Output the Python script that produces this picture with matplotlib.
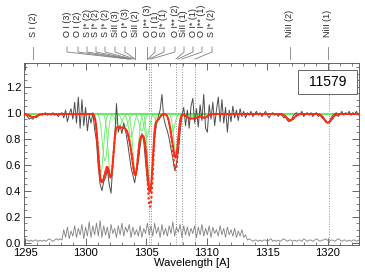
import numpy as np
import matplotlib
matplotlib.use('Agg')
import matplotlib.pyplot as plt
from matplotlib.lines import Line2D
from matplotlib.patches import Rectangle
from matplotlib.ticker import MultipleLocator

plt.rcParams['font.family'] = ['Liberation Sans', 'DejaVu Sans']

# spectrum, sampled every 0.15 A from 1294.9 A
wave_start = 1294.9
wave_step = 0.15
flux = [
    1.00, 0.99, 0.97, 0.95, 0.96, 0.95, 0.97, 0.96, 0.98, 0.99,
    0.98, 0.99, 1.00, 0.98, 0.99, 0.98, 1.00, 0.98, 0.99, 0.97,
    0.99, 1.00, 0.96, 1.02, 0.93, 0.99, 1.03, 0.95, 1.08, 0.92,
    1.12, 0.88, 1.10, 0.90, 1.04, 0.86, 0.98, 0.92, 1.00, 0.87,
    0.78, 0.58, 0.45, 0.40, 0.47, 0.50, 0.56, 0.45, 0.38, 0.60,
    0.80, 1.07, 0.85, 0.90, 0.84, 0.92, 0.86, 0.78, 0.68, 0.58,
    0.52, 0.46, 0.55, 0.62, 0.74, 0.84, 0.78, 0.62, 0.48, 0.40,
    0.44, 0.62, 0.80, 0.92, 0.97, 1.02, 1.14, 0.96, 0.90, 0.86,
    0.80, 0.72, 0.65, 0.56, 0.60, 0.70, 0.85, 0.98, 1.04, 0.90,
    1.02, 0.88, 1.05, 1.11, 0.92, 1.03, 0.89, 1.06, 0.94, 1.14,
    0.88, 0.85, 1.06, 0.95, 1.08, 0.90, 1.02, 1.12, 0.93, 1.10,
    0.92, 1.04, 0.85, 1.02, 0.93, 1.05, 0.96, 1.02, 0.94, 1.03,
    0.97, 1.01, 0.96, 1.00, 0.98, 1.01, 0.97, 0.99, 1.01, 0.98,
    1.00, 0.97, 0.99, 1.01, 0.98, 0.96, 0.99, 1.00, 0.98, 0.99,
    0.97, 0.99, 0.98, 0.96, 0.97, 0.94, 0.93, 0.94, 0.97, 0.99,
    1.00, 0.98, 0.99, 1.01, 0.97, 0.99, 1.00, 0.98, 1.00, 0.97,
    0.99, 1.00, 0.97, 0.98, 0.96, 0.95, 0.93, 0.92, 0.93, 0.96,
    0.98, 0.99, 1.00, 0.97, 0.99, 1.01, 0.98, 1.00, 0.99, 1.01,
    0.98, 1.00, 0.99, 1.01, 0.98, 1.00,
]
error = [
    0.03, 0.02, 0.02, 0.01, 0.02, 0.01, 0.02, 0.02, 0.01, 0.02,
    0.01, 0.02, 0.01, 0.02, 0.03, 0.02, 0.01, 0.02, 0.03, 0.02,
    0.03, 0.02, 0.10, 0.04, 0.12, 0.03, 0.09, 0.05, 0.13, 0.04,
    0.11, 0.06, 0.14, 0.03, 0.12, 0.05, 0.16, 0.04, 0.13, 0.06,
    0.15, 0.05, 0.17, 0.04, 0.13, 0.06, 0.12, 0.03, 0.14, 0.07,
    0.11, 0.04, 0.13, 0.06, 0.15, 0.05, 0.12, 0.08, 0.14, 0.04,
    0.12, 0.06, 0.10, 0.05, 0.13, 0.04, 0.11, 0.07, 0.15, 0.06,
    0.13, 0.05, 0.15, 0.07, 0.12, 0.04, 0.14, 0.06, 0.11, 0.05,
    0.13, 0.07, 0.16, 0.05, 0.12, 0.08, 0.14, 0.04, 0.13, 0.06,
    0.12, 0.05, 0.11, 0.07, 0.13, 0.04, 0.12, 0.06, 0.14, 0.05,
    0.11, 0.06, 0.13, 0.04, 0.12, 0.07, 0.10, 0.05, 0.13, 0.06,
    0.11, 0.04, 0.12, 0.06, 0.10, 0.05, 0.11, 0.04, 0.09, 0.05,
    0.10, 0.04, 0.06, 0.02, 0.03, 0.02, 0.01, 0.02, 0.02, 0.01,
    0.02, 0.01, 0.02, 0.02, 0.01, 0.02, 0.03, 0.01, 0.02, 0.01,
    0.02, 0.01, 0.02, 0.03, 0.02, 0.01, 0.02, 0.02, 0.01, 0.02,
    0.01, 0.02, 0.02, 0.01, 0.03, 0.02, 0.01, 0.02, 0.02, 0.01,
    0.02, 0.03, 0.02, 0.01, 0.02, 0.02, 0.03, 0.02, 0.01, 0.02,
    0.02, 0.01, 0.02, 0.03, 0.02, 0.01, 0.02, 0.02, 0.01, 0.02,
    0.01, 0.02, 0.02, 0.01, 0.02, 0.01,
]

# fitted absorption components: centre [A], optical depth, width [A]
continuum = 0.99
line_centre = [1295.70, 1301.25, 1301.60, 1302.08, 1302.75, 1303.30, 1303.75,
               1304.12, 1304.62, 1305.05, 1305.33, 1305.90, 1307.15, 1307.45,
               1308.55, 1309.05, 1309.80, 1316.90, 1320.00]
line_tau = [0.025, 0.62, 0.45, 0.65, 0.10, 0.10, 0.20,
            0.60, 0.14, 0.20, 0.85, 0.05, 0.15, 0.36,
            0.03, 0.03, 0.03, 0.05, 0.07]
line_tau_alt = [0.025, 0.62, 0.45, 0.65, 0.10, 0.10, 0.20,
                0.60, 0.14, 0.20, 1.20, 0.05, 0.15, 0.52,
                0.03, 0.03, 0.03, 0.05, 0.07]
line_width = [0.30, 0.20, 0.20, 0.20, 0.25, 0.25, 0.20,
              0.20, 0.20, 0.20, 0.18, 0.20, 0.20, 0.18,
              0.25, 0.25, 0.25, 0.30, 0.30]

dotted_lines = [1305.23, 1305.40, 1307.46, 1307.93, 1309.00, 1320.10]

# line identifications: text, label position (px), wavelength the leader points at
label_text = ['S I (2)',
              'O I (3)', 'O I (2)', 'S I* (2)', 'S I* (2)', 'S I* (2)', 'SiII (3)', 'O I* (3)', 'SiII (2)',
              'O I** (3)', 'O I (1)', 'S I* (1)', 'O I** (2)', 'SiII (1)', 'O I* (1)', 'O I** (1)', 'S I* (2)',
              'NiII (2)', 'NiII (1)']
label_xpix = [33,
              67, 78, 87, 96, 105, 115, 125, 135,
              147, 155, 164, 175, 184, 193, 202, 212,
              290, 328]
label_target = [1295.66,
                1303.50, 1303.58, 1303.66, 1303.75, 1303.83, 1303.99, 1304.08, 1304.24,
                1305.07, 1305.15, 1305.23, 1305.40, 1307.46, 1307.62, 1307.95, 1309.03,
                1316.86, 1320.00]

W, H = 365, 275
xmin, xmax = 1294.92, 1322.56
ymin, ymax = -0.018, 1.382
ax_l, ax_r, ax_b, ax_t = 24, 359, 245, 63

fig = plt.figure(figsize=(W / 100, H / 100), dpi=100)
ax = fig.add_axes([ax_l / W, 1 - ax_b / H, (ax_r - ax_l) / W, (ax_b - ax_t) / H])

wave = wave_start + wave_step * np.arange(len(flux))
grid = np.linspace(xmin, xmax, 3000)

tau_total = np.zeros_like(grid)
tau_alt = np.zeros_like(grid)
for c, t, ta, w in zip(line_centre, line_tau, line_tau_alt, line_width):
    prof = np.exp(-0.5 * ((grid - c) / w) ** 2)
    tau_total += t * prof
    tau_alt += ta * prof
    ax.plot(grid, continuum * np.exp(-t * prof), color='#5ef05e', lw=0.6, zorder=2)

for d in dotted_lines:
    ax.axvline(d, color='0.55', ls=':', lw=0.7, zorder=1)

ax.plot(wave, flux, color='0.3', lw=0.7, zorder=3)
ax.plot(wave, error, color='0.5', lw=0.6, zorder=3)
ax.plot(grid, continuum * np.exp(-tau_alt), color='#ff2a10', ls=(0, (1.2, 1.2)), lw=1.4, zorder=4)
ax.plot(grid, continuum * np.exp(-tau_total), color='#ff2a10', lw=1.4, zorder=5)

ax.set_xlim(xmin, xmax)
ax.set_ylim(ymin, ymax)
ax.xaxis.set_major_locator(MultipleLocator(5))
ax.xaxis.set_minor_locator(MultipleLocator(1))
ax.yaxis.set_major_locator(MultipleLocator(0.2))
ax.yaxis.set_minor_locator(MultipleLocator(0.05))
ax.tick_params(which='both', direction='in', top=True, right=True, labelsize=8, color='0.3', pad=2)
ax.tick_params(which='major', length=5, width=0.6)
ax.tick_params(which='minor', length=2.5, width=0.5)
ax.yaxis.set_major_formatter(plt.FormatStrFormatter('%.1f'))
for s in ax.spines.values():
    s.set_color('0.3')
    s.set_linewidth(0.6)
ax.set_xlabel('Wavelength [A]', fontsize=8, labelpad=0)

ax.add_patch(Rectangle((0.818, 0.83), 0.176, 0.134, transform=ax.transAxes,
                       facecolor='white', edgecolor='0.4', lw=0.7, zorder=6))
ax.text(0.906, 0.897, '11579', transform=ax.transAxes, ha='center', va='center',
        fontsize=10, zorder=7)


def to_px(lam):
    return ax_l + (lam - xmin) / (xmax - xmin) * (ax_r - ax_l)


for txt, xp, lam in zip(label_text, label_xpix, label_target):
    fig.text(xp / W, 1 - 37 / H, txt, rotation=90, ha='center', va='bottom', fontsize=6.5, color='0.15')
    tx = to_px(lam)
    xs = [xp, xp, tx]
    ys = [47, 52, 59]
    if abs(tx - xp) < 2:
        xs = [xp, xp]
        ys = [47, 59]
    fig.add_artist(Line2D([x / W for x in xs], [1 - y / H for y in ys], color='0.5', lw=0.6))

fig.savefig('out.png', dpi=100)
